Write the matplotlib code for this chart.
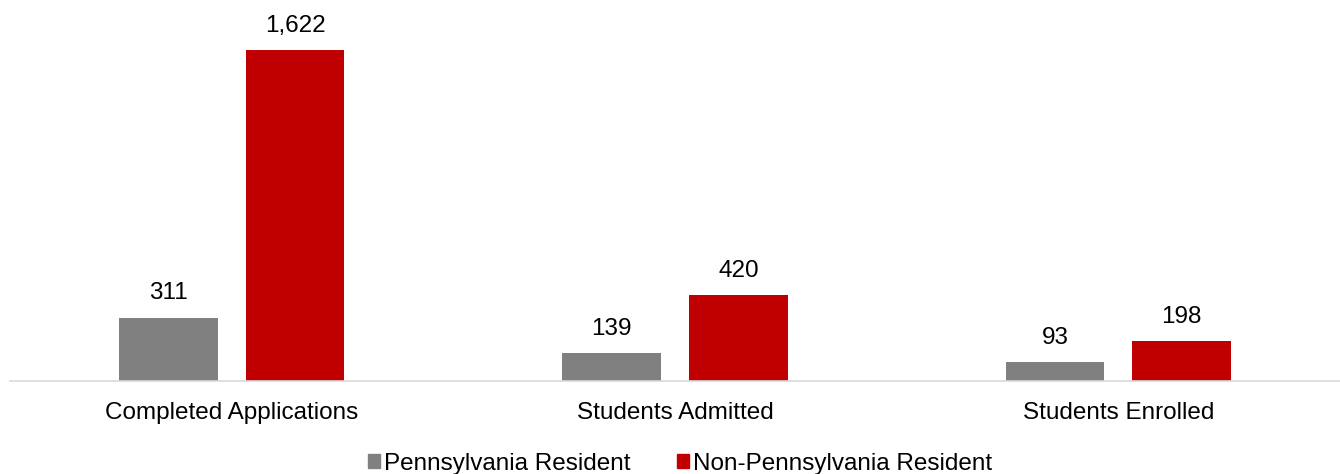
import matplotlib
matplotlib.use("Agg")
import matplotlib.pyplot as plt
import numpy as np
from matplotlib.patches import Patch

plt.rcParams['font.family'] = ['Liberation Sans', 'DejaVu Sans']

categories = ["Completed Applications", "Students Admitted", "Students Enrolled"]
series_names = ["Pennsylvania Resident", "Non-Pennsylvania Resident"]
pa_resident = [311, 139, 93]
non_pa_resident = [1622, 420, 198]
colors = ["#808080", "#C00000"]

FS = 17.5

fig = plt.figure(figsize=(13.4, 4.74), dpi=100)
ax = fig.add_axes([10/1340, 93/474, 1330/1340, 381/474])

x = np.arange(len(categories))
w = 0.223
gap = 0.063
off = (w + gap) / 2
for vals, sign, col in [(pa_resident, -1, colors[0]), (non_pa_resident, 1, colors[1])]:
    bars = ax.bar(x + sign*off, vals, width=w, color=col)
    for b, v in zip(bars, vals):
        ax.annotate(f"{v:,}", (b.get_x() + b.get_width()/2, v), xytext=(0, 13),
                    textcoords="offset points", ha="center", va="baseline", fontsize=FS)

ax.set_xlim(-0.5, 2.5)
ax.set_ylim(0, 1867)
ax.set_yticks([])
for s in ["top", "right", "left"]:
    ax.spines[s].set_visible(False)
ax.spines["bottom"].set_color("#d9d9d9")
ax.spines["bottom"].set_linewidth(1.2)
ax.set_xticks(x)
ax.set_xticklabels(categories, fontsize=FS)
ax.tick_params(axis="x", length=0, pad=15)

handles = [Patch(color=c, label=n) for c, n in zip(colors, series_names)]
fig.legend(handles=handles, loc="center", bbox_to_anchor=(680/1340, 10/474),
           ncol=2, frameon=False, fontsize=FS, handlelength=0.5, handleheight=0.5,
           handletextpad=0.16, columnspacing=1.9, borderaxespad=0)

fig.savefig("out.png", dpi=100)
